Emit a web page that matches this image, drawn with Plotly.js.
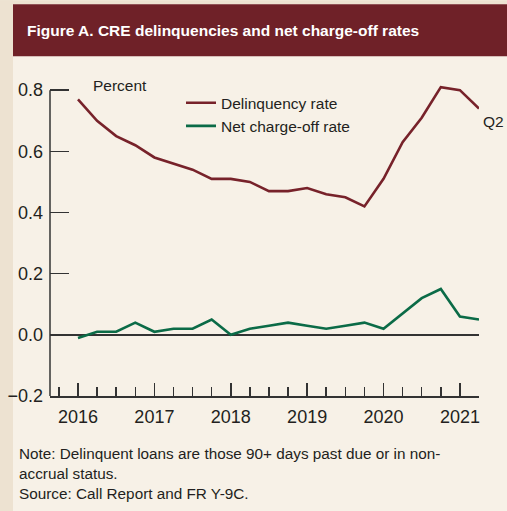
<!DOCTYPE html>
<html>
<head>
<meta charset="utf-8">
<script src="https://cdn.plot.ly/plotly-3.0.1.min.js"></script>
<style>
html,body{margin:0;padding:0;background:#f7f1e7;}
#chart{width:507px;height:511px;}
</style>
</head>
<body>
<div id="chart"></div>
<script>
// ---- data ----
const quarters = ["2016Q1","2016Q2","2016Q3","2016Q4","2017Q1","2017Q2","2017Q3","2017Q4",
  "2018Q1","2018Q2","2018Q3","2018Q4","2019Q1","2019Q2","2019Q3","2019Q4",
  "2020Q1","2020Q2","2020Q3","2020Q4","2021Q1","2021Q2"];
const delinquencyRate = [0.77,0.70,0.65,0.62,0.58,0.56,0.54,0.51,
  0.51,0.50,0.47,0.47,0.48,0.46,0.45,0.42,
  0.51,0.63,0.71,0.81,0.80,0.74];
const netChargeOffRate = [-0.01,0.01,0.01,0.04,0.01,0.02,0.02,0.05,
  0.00,0.02,0.03,0.04,0.03,0.02,0.03,0.04,
  0.02,0.07,0.12,0.15,0.06,0.05];
const yearLabels = ["2016","2017","2018","2019","2020","2021"];
const seriesNames = ["Delinquency rate","Net charge-off rate"];

const xs = quarters.map(q => parseInt(q.slice(0,4)) + (parseInt(q.slice(5)) - 1) / 4);
const yearVals = yearLabels.map(y => parseInt(y));

const FONT = '"Liberation Sans",Arial,Helvetica,sans-serif';
const TXT = '#231f20';

// plot area: x 50..479 ; y value 0.8 at pixel 90, -0.2 at pixel 396
const YMIN = -0.2, YMAX = 0.8, YTOP = 0.83;
const L = 50, R = 479, B = 396;
const T = B - (B - 90) * (YTOP - YMIN) / (YMAX - YMIN);
const px = p => (p - L) / (R - L);
const py = p => (B - p) / (B - T);

const traces = [
  {x: xs, y: delinquencyRate, name: seriesNames[0], type: 'scatter', mode: 'lines',
   line: {color: '#77222a', width: 2.6}},
  {x: xs, y: netChargeOffRate, name: seriesNames[1], type: 'scatter', mode: 'lines',
   line: {color: '#0b6b47', width: 2.6}}
];

const layout = {
  width: 507, height: 511,
  margin: {l: L, r: 507 - R, t: T, b: 511 - B, pad: 0},
  paper_bgcolor: '#f7f1e7',
  plot_bgcolor: 'rgba(0,0,0,0)',
  font: {family: FONT, size: 17, color: TXT},
  showlegend: true,
  legend: {x: px(181), y: py(86), xanchor: 'left', yanchor: 'top',
           bgcolor: 'rgba(0,0,0,0)', font: {family: FONT, size: 15.5, color: TXT},
           tracegroupgap: 0, itemwidth: 30},
  title: {text: 'Figure A. CRE delinquencies and net charge-off rates',
          font: {family: FONT, size: 15.5, color: '#ffffff', weight: 'bold'},
          xref: 'container', yref: 'container', x: 27 / 507, xanchor: 'left',
          y: 1 - 31 / 511, yanchor: 'middle'},
  xaxis: {
    range: [2016 - 1.466 / 4, 2021.25],
    tickmode: 'array', tickvals: yearVals, ticktext: yearLabels,
    ticks: 'inside', ticklen: 13, tickwidth: 1.5, tickcolor: '#333',
    minor: {tickmode: 'linear', tick0: 2016, dtick: 0.25, ticks: 'inside', ticklen: 9, tickwidth: 1.5, tickcolor: '#333'},
    showline: true, linecolor: '#333', linewidth: 1.5,
    showgrid: false, zeroline: false, fixedrange: true,
    ticklabelstandoff: 4,
    tickfont: {family: FONT, size: 18, color: TXT}
  },
  yaxis: {
    range: [YMIN, YTOP], tickmode: 'array', tickvals: [-0.2, 0, 0.2, 0.4, 0.6, 0.8], tickformat: '.1f',
    ticks: 'inside', ticklen: 19, tickwidth: 1.5, tickcolor: '#333',
    showline: false,
    showgrid: false, zeroline: true, zerolinecolor: '#333', zerolinewidth: 1.5,
    ticklabelstandoff: 6, fixedrange: true,
    tickfont: {family: FONT, size: 18, color: TXT}
  },
  shapes: [
    {type: 'rect', xref: 'paper', yref: 'paper', layer: 'below',
     x0: px(0), x1: px(13), y0: py(511), y1: py(0), fillcolor: '#ede2d1', line: {width: 0}},
    {type: 'rect', xref: 'paper', yref: 'paper', layer: 'below',
     x0: px(0), x1: px(507), y0: py(4), y1: py(0), fillcolor: '#ede2d1', line: {width: 0}},
    {type: 'rect', xref: 'paper', yref: 'paper', layer: 'below',
     x0: px(13), x1: px(507), y0: py(56), y1: py(4), fillcolor: '#6f2128', line: {width: 0}},
    {type: 'line', xref: 'paper', yref: 'y', x0: 0, x1: 0, y0: YMIN, y1: YMAX,
     line: {color: '#333', width: 1.5}}
  ],
  annotations: [
    {text: 'Percent', xref: 'paper', yref: 'paper', x: px(91), y: py(85),
     xanchor: 'left', yanchor: 'middle', showarrow: false, font: {family: FONT, size: 15.5, color: TXT}},
    {text: 'Q2', xref: 'paper', yref: 'paper', x: px(481), y: py(121),
     xanchor: 'left', yanchor: 'middle', showarrow: false, font: {family: FONT, size: 15.5, color: TXT}},
    {text: 'Note: Delinquent loans are those 90+ days past due or in non-<br>accrual status.<br>Source: Call Report and FR Y-9C.',
     xref: 'paper', yref: 'paper', x: px(17), y: py(443), xanchor: 'left', yanchor: 'top', align: 'left',
     showarrow: false, font: {family: FONT, size: 15.3, color: TXT}}
  ]
};

Plotly.newPlot('chart', traces, layout, {staticPlot: true, displayModeBar: false});
</script>
</body>
</html>
